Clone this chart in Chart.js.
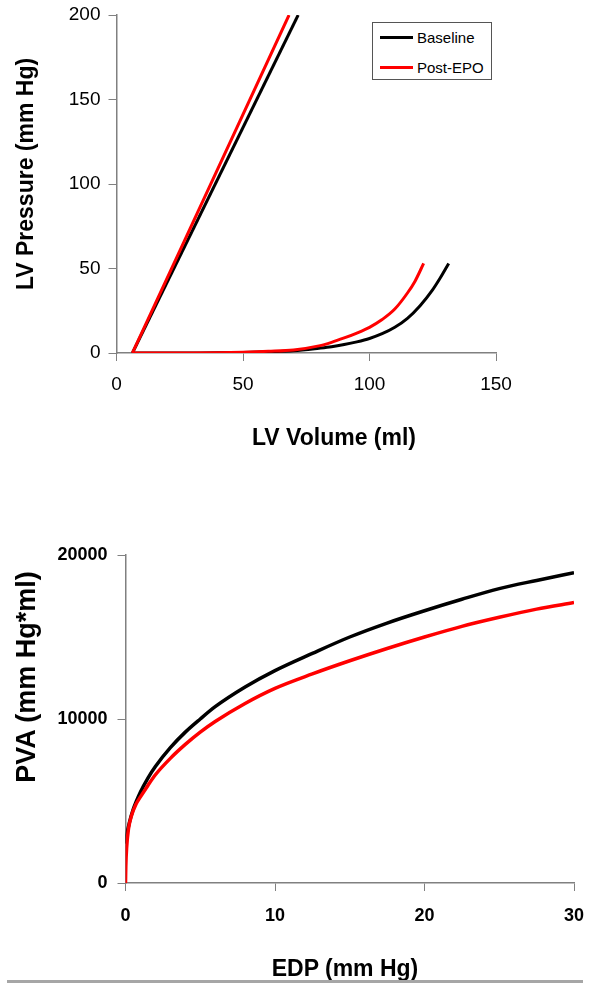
<!DOCTYPE html>
<html>
<head>
<meta charset="utf-8">
<script src="https://cdn.jsdelivr.net/npm/chart.js@4.4.1/dist/chart.umd.min.js"></script>
<style>
  body { margin: 0; width: 590px; height: 990px; background: #fff; position: relative; overflow: hidden;
         font-family: "Liberation Sans", Arial, sans-serif; color: #000; }
  .box { position: absolute; left: 0; width: 590px; }
  .title { position: absolute; font-weight: bold; font-size: 23px; white-space: nowrap; transform: translate(-50%, -50%); }
  .title.rot { transform: translate(-50%, -50%) rotate(-90deg); }
  .legend { position: absolute; left: 372px; top: 22px; width: 118px; height: 56px; border: 1px solid #555; background: #fff; font-size: 15px; }
  .legend .row { position: absolute; left: 7px; height: 18px; display: flex; align-items: center; }
  .legend .swatch { width: 33px; height: 3px; margin-right: 4px; }
  .rule { position: absolute; left: 7px; top: 980px; width: 576px; height: 3px; background: #a6a6a6; }
</style>
</head>
<body>
<div class="box" style="top:0;height:460px"><canvas id="pvChart"></canvas></div>
<div class="box" style="top:460px;height:530px"><canvas id="pvaChart"></canvas></div>

<div class="legend">
  <div class="row" style="top:5px"><span class="swatch" style="background:#000"></span>Baseline</div>
  <div class="row" style="top:35px"><span class="swatch" style="background:#ff0000"></span>Post-EPO</div>
</div>

<div class="title rot" style="left:25px;top:174px">LV Pressure (mm Hg)</div>
<div class="title" style="left:334px;top:437px">LV Volume (ml)</div>
<div class="title rot" style="left:26px;top:677px;font-size:27px">PVA (mm Hg*ml)</div>
<div class="title" style="left:345px;top:968px">EDP (mm Hg)</div>
<div class="rule"></div>

<script>
// ---------- Data ---------- //
const seriesNames = ["Baseline", "Post-EPO"];

// End-systolic P-V lines
const volBaseEs = [6.3, 71.8];
const presBaseEs = [0, 200];
const volEpoEs = [6.3, 68.2];
const presEpoEs = [0, 200];

// End-diastolic P-V curves
const volBaseEd = [6.3, 20, 30, 40, 50, 60, 70, 80, 85, 90, 95, 100, 105, 110, 115, 120, 125, 128, 131.3];
const presBaseEd = [0, 0, 0.05, 0.1, 0.3, 0.7, 1.3, 2.8, 3.7, 5, 6.6, 8.6, 11.4, 15.2, 20.5, 28, 37.5, 44.5, 53];
const volEpoEd = [6.3, 20, 30, 40, 50, 60, 70, 80, 85, 90, 95, 100, 105, 110, 115, 118, 121.4];
const presEpoEd = [0, 0, 0.05, 0.2, 0.5, 1, 1.8, 4.2, 6.3, 8.9, 11.8, 15.2, 19.8, 26, 35.5, 42.5, 53];

// PVA vs EDP
const edpBase = [0, 0.1, 0.25, 0.5, 1, 1.5, 2, 3, 4, 5, 6, 8, 10, 12.5, 15, 17.5, 20, 22.5, 25, 27.5, 30];
const pvaBase = [2400, 3000, 3650, 4450, 5550, 6400, 7100, 8250, 9200, 10000, 10750, 11950, 12950, 14000, 15000, 15850, 16600, 17300, 17950, 18450, 18920];
const edpEpo = [0, 0.02, 0.08, 0.2, 0.4, 0.7, 1, 1.5, 2, 3, 4, 5, 6, 8, 10, 12.5, 15, 17.5, 20, 22.5, 25, 27.5, 30];
const pvaEpo = [0, 1000, 2200, 3300, 4100, 4800, 5250, 5950, 6600, 7600, 8450, 9200, 9850, 10950, 11870, 12750, 13550, 14300, 15000, 15650, 16200, 16700, 17100];

// Tick labels
const volTicks = [0, 50, 100, 150];
const presTicks = [0, 50, 100, 150, 200];
const edpTicks = [0, 10, 20, 30];
const pvaTicks = [0, 10000, 20000];

const colors = ["#000000", "#ff0000"];
const axisGrey = "#808080";

function toPoints(xs, ys) {
  return xs.map((x, i) => ({ x: x, y: ys[i] }));
}

function lineSet(label, xs, ys, color, width) {
  return {
    label: label,
    data: toPoints(xs, ys),
    borderColor: color,
    backgroundColor: color,
    borderWidth: width,
    pointRadius: 0,
    showLine: true,
    cubicInterpolationMode: "monotone",
    fill: false
  };
}

// shared axis styling; the plot box is pinned with afterFit
// (label overhang is zeroed so layout.padding alone sets the edges)
function axis(min, max, ticks, font, fitSize, isX, pad) {
  return {
    type: "linear",
    min: min,
    max: max,
    afterBuildTicks: s => { s.ticks = ticks.map(v => ({ value: v })); },
    afterFit: s => {
      if (isX) { s.height = fitSize; s.paddingLeft = 0; s.paddingRight = 0; }
      else { s.width = fitSize; s.paddingTop = 0; s.paddingBottom = 0; }
    },
    grid: { display: true, drawOnChartArea: false, drawTicks: true, tickLength: 8, color: axisGrey, lineWidth: 1 },
    border: { display: true, color: axisGrey, width: 1.5 },
    ticks: { color: "#000", font: font, padding: pad, maxRotation: 0, autoSkip: false, callback: v => String(v) }
  };
}

Chart.defaults.font.family = '"Liberation Sans", Arial, sans-serif';

// ---------- Top: LV pressure-volume relations ---------- //
new Chart(document.getElementById("pvChart"), {
  type: "scatter",
  data: {
    datasets: [
      lineSet(seriesNames[1], volEpoEs, presEpoEs, colors[1], 3),
      lineSet(seriesNames[1], volEpoEd, presEpoEd, colors[1], 3),
      lineSet(seriesNames[0], volBaseEs, presBaseEs, colors[0], 3),
      lineSet(seriesNames[0], volBaseEd, presBaseEd, colors[0], 3)
    ]
  },
  options: {
    responsive: true,
    maintainAspectRatio: false,
    animation: false,
    devicePixelRatio: 1,
    layout: { padding: { left: 0, top: 15, right: 94, bottom: 0 } },
    plugins: { legend: { display: false }, tooltip: { enabled: false } },
    scales: {
      x: axis(0, 150, volTicks, { size: 19 }, 107, true, 12),
      y: axis(0, 200, presTicks, { size: 19 }, 116.5, false, 8)
    }
  }
});

// ---------- Bottom: PVA vs EDP ---------- //
new Chart(document.getElementById("pvaChart"), {
  type: "scatter",
  data: {
    datasets: [
      lineSet(seriesNames[1], edpEpo, pvaEpo, colors[1], 3.5),
      lineSet(seriesNames[0], edpBase, pvaBase, colors[0], 3.5)
    ]
  },
  options: {
    responsive: true,
    maintainAspectRatio: false,
    animation: false,
    devicePixelRatio: 1,
    layout: { padding: { left: 0, top: 95, right: 16, bottom: 0 } },
    plugins: { legend: { display: false }, tooltip: { enabled: false } },
    scales: {
      x: axis(0, 30, edpTicks, { size: 18, weight: "bold" }, 107, true, 14),
      y: axis(0, 20000, pvaTicks, { size: 18, weight: "bold" }, 125.5, false, 10)
    }
  }
});
</script>
</body>
</html>
